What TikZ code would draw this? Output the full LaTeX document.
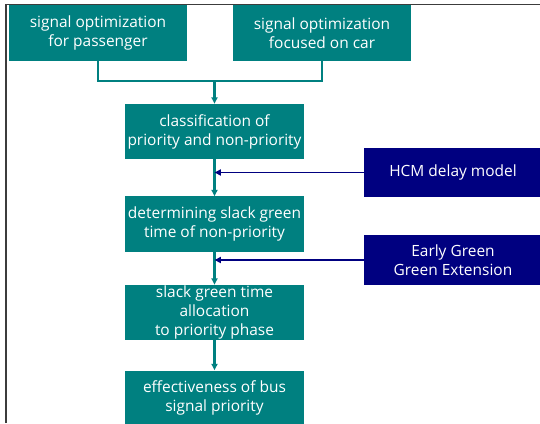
\documentclass[tikz,border=0pt]{standalone}
\usepackage{fontspec}
\setmainfont{Open Sans}
\usetikzlibrary{arrows.meta}

\definecolor{tealbox}{RGB}{0,128,128}
\definecolor{navybox}{RGB}{0,0,128}
\definecolor{framegray}{RGB}{60,60,60}

\begin{document}
\begin{tikzpicture}[x=0.025cm, y=-0.025cm, >={Triangle[length=1.6mm,width=1.5mm]},
    stepbox/.style={fill=tealbox, text=white, align=center, minimum width=4.45cm,
      minimum height=1.375cm, inner sep=0pt, font=\fontsize{11}{13.5}\selectfont},
    inputbox/.style={fill=navybox, text=white, align=center, minimum width=4.45cm,
      minimum height=1.24cm, inner sep=0pt, font=\fontsize{11}{13.5}\selectfont},
    tealline/.style={draw=tealbox, line width=1.5pt},
    navyline/.style={draw=navybox, line width=1.2pt}]

        \useasboundingbox (0,0) rectangle (540,423);

        % frame
        \draw[framegray, line width=1.2pt] (6,423) -- (6,4.5) -- (540,4.5);

        \node[stepbox] at (98,33) (passenger) {signal optimization\\for passenger};
        \node[stepbox] at (322,33) (car) {signal optimization\\focused on car};
        \node[stepbox] at (214.5,131.5) (classif) {classification of\\priority and non-priority};
        \node[stepbox] at (214.5,224) (slack) {determining slack green\\time of non-priority};
        \node[stepbox] at (214.5,312.5) (alloc) {slack green time\\allocation\\to priority phase};
        \node[stepbox] at (214.5,398) (effect) {effectiveness of bus\\signal priority};

        \node[inputbox] at (453,172.5) (hcm) {HCM delay model};
        \node[inputbox] at (453,260) (early) {Early Green\\Green Extension};

        \coordinate (join) at (214.5,81);

        \draw[tealline] (passenger.south) |- (join) -| (car.south);
        \draw[tealline,->] (join) -- (classif.north);
        \draw[tealline,->] (classif) -- (slack);
        \draw[tealline,->] (slack) -- (alloc);
        \draw[tealline,->] (alloc) -- (effect);
        \draw[navyline,->] (hcm.west) -- (hcm.west -| classif.south);
        \draw[navyline,->] (early.west) -- (early.west -| slack.south);

    \end{tikzpicture}
\end{document}
